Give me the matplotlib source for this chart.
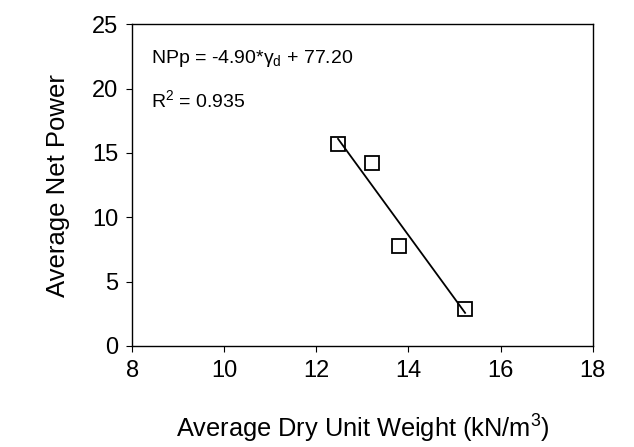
import numpy as np
import matplotlib
matplotlib.use('Agg')
import matplotlib.pyplot as plt

# data
dry_unit_weight = [12.47, 13.21, 13.79, 15.23]
net_power = [15.7, 14.25, 7.75, 2.85]
slope, intercept = -4.90, 77.20
r_squared = 0.935

x_ticks = [8, 10, 12, 14, 16, 18]
y_ticks = [0, 5, 10, 15, 20, 25]

plt.rcParams['font.family'] = ['Liberation Sans', 'DejaVu Sans']
plt.rcParams['mathtext.fontset'] = 'custom'
plt.rcParams['mathtext.rm'] = 'Liberation Sans'
plt.rcParams['mathtext.it'] = 'Liberation Sans'

fig = plt.figure(figsize=(6.34, 4.47), dpi=100)
ax = fig.add_axes([0.2087, 0.226, 0.726, 0.7196])

ax.plot(dry_unit_weight, net_power, linestyle='none', marker='s',
        markersize=10, markerfacecolor='none', markeredgecolor='black',
        markeredgewidth=1.3)

# regression line over the data range
xs = np.array([min(dry_unit_weight), max(dry_unit_weight)])
ax.plot(xs, slope * xs + intercept, color='black', linewidth=1.3)

ax.set_xlim(8, 18)
ax.set_ylim(0, 25)
ax.set_xticks(x_ticks)
ax.set_yticks(y_ticks)
ax.tick_params(direction='out', length=4, labelsize=17, pad=6,
               top=False, right=False)
for sp in ax.spines.values():
    sp.set_linewidth(1.0)

ax.set_xlabel('Average Dry Unit Weight (kN/m$^3$)', fontsize=18.3,
              labelpad=22)
ax.set_ylabel('Average Net Power', fontsize=18.5, labelpad=16)

ax.text(0.04, 0.895, r'NPp = -4.90*$\gamma_{\mathrm{d}}$ + 77.20',
        transform=ax.transAxes, fontsize=14, va='center')
ax.text(0.04, 0.765, 'R$^2$ = %.3f' % r_squared,
        transform=ax.transAxes, fontsize=14, va='center')

fig.savefig('out.png', dpi=100)
